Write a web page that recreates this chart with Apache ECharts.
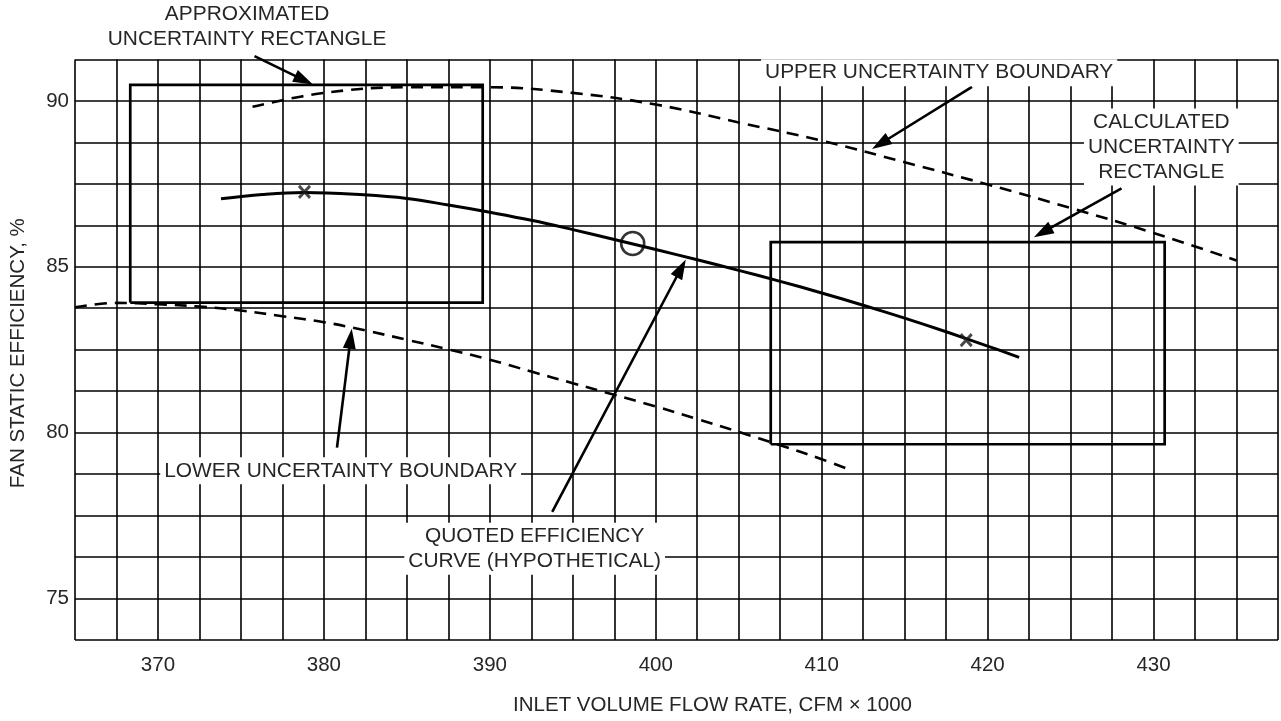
<!DOCTYPE html>
<html>
<head>
<meta charset="utf-8">
<script src="https://cdn.jsdelivr.net/npm/echarts@6/dist/echarts.min.js"></script>
<style>
  html, body { margin: 0; padding: 0; background: #fff; }
  #chart { width: 1281px; height: 721px; }
</style>
</head>
<body>
<div id="chart"></div>
<script>
// ---- Axis ranges and tick spacing ----
const xRange = [365, 437.5];
const yRange = [73.75, 91.25];
const xStep = 2.5;
const yStep = 1.25;
const xLabelEvery = 10;
const yLabelEvery = 5;

// ---- Curves: fan static efficiency (%) vs inlet volume flow (CFM x 1000) ----
const quotedCurve = [
  [373.8, 87.05], [376.3, 87.18], [378.8, 87.24], [382.4, 87.17], [385.0, 87.06],
  [387.5, 86.86], [390.0, 86.64], [392.5, 86.40], [395.0, 86.12], [397.5, 85.82],
  [400.0, 85.52], [402.5, 85.21], [405.0, 84.89], [407.5, 84.56], [410.0, 84.21],
  [412.5, 83.84], [415.0, 83.45], [417.5, 83.04], [420.0, 82.61], [421.9, 82.27]
];
const upperBoundary = [
  [375.7, 89.82], [380.0, 90.24], [385.0, 90.41], [390.0, 90.41], [395.0, 90.24],
  [400.0, 89.89], [405.0, 89.35], [410.0, 88.80], [415.0, 88.15], [420.0, 87.48],
  [425.0, 86.77], [430.0, 86.02], [435.0, 85.19]
];
const lowerBoundary = [
  [365.0, 83.78], [367.5, 83.91], [370.0, 83.87], [372.5, 83.80], [375.0, 83.68],
  [377.5, 83.51], [380.0, 83.33], [382.5, 83.08], [385.0, 82.80], [387.5, 82.51],
  [390.0, 82.20], [392.5, 81.84], [395.0, 81.49], [397.5, 81.14], [400.0, 80.79],
  [402.5, 80.41], [405.0, 80.02], [407.5, 79.62], [410.0, 79.20], [411.7, 78.88]
];

// ---- Uncertainty rectangles (flow span, efficiency span) ----
const approxRectX = [368.33, 389.57];
const approxRectY = [83.92, 90.48];
const calcRectX = [406.93, 430.67];
const calcRectY = [79.65, 85.74];

// ---- Points ----
const testPoints = [[378.83, 87.26], [418.71, 82.79]];
const ratedPoint = [[398.61, 85.7]];

// ---- Callouts: text and its anchor, arrows from tail to tip ----
const calloutText = [
  'APPROXIMATED\nUNCERTAINTY RECTANGLE',
  'UPPER UNCERTAINTY BOUNDARY',
  'CALCULATED\nUNCERTAINTY\nRECTANGLE',
  'LOWER UNCERTAINTY BOUNDARY',
  'QUOTED EFFICIENCY\nCURVE (HYPOTHETICAL)'
];
const calloutAnchor = [
  [375.37, 92.23],
  [417.08, 90.85],
  [430.47, 88.61],
  [381.01, 78.85],
  [392.70, 76.50]
];
const calloutArrows = [
  [375.82, 91.35, 379.34, 90.49],
  [419.06, 90.42, 413.03, 88.55],
  [428.07, 87.36, 422.79, 85.89],
  [380.79, 79.55, 381.68, 83.13],
  [393.76, 77.61, 401.81, 85.22]
];

const FONT = 'Liberation Sans, Arial, Helvetica, sans-serif';
const TEXT_COLOR = '#262626';
const FONT_SIZE = 20.5;
const CALLOUT_SIZE = 20.9;

function rectPath(xs, ys) {
  return [[xs[0], ys[0]], [xs[1], ys[0]], [xs[1], ys[1]], [xs[0], ys[1]], [xs[0], ys[0]]];
}
function isMultiple(v, step) {
  return Math.abs(v / step - Math.round(v / step)) < 1e-6;
}

const chart = echarts.init(document.getElementById('chart'), null, { renderer: 'canvas' });

const option = {
  animation: false,
  backgroundColor: '#fff',
  grid: { left: 64.7, top: 59.4, width: 1215.6, height: 586.9, containLabel: false },
  xAxis: {
    type: 'value',
    min: xRange[0], max: xRange[1], interval: xStep,
    axisLine: { show: false },
    axisTick: { show: false },
    splitLine: { show: true, lineStyle: { color: '#000', width: 1.6 } },
    axisLabel: {
      color: TEXT_COLOR, fontSize: FONT_SIZE, fontFamily: FONT, margin: 15,
      formatter: v => isMultiple(v, xLabelEvery) ? String(Math.round(v)) : ''
    },
    name: 'INLET VOLUME FLOW RATE, CFM × 1000',
    nameLocation: 'middle', nameGap: 55,
    nameTextStyle: { color: TEXT_COLOR, fontSize: FONT_SIZE, fontFamily: FONT, padding: [0, 0, 0, 72] }
  },
  yAxis: {
    type: 'value',
    min: yRange[0], max: yRange[1], interval: yStep,
    axisLine: { show: false },
    axisTick: { show: false },
    splitLine: { show: true, lineStyle: { color: '#000', width: 1.6 } },
    axisLabel: {
      color: TEXT_COLOR, fontSize: FONT_SIZE, fontFamily: FONT, margin: 6,
      formatter: v => isMultiple(v, yLabelEvery) ? String(Math.round(v)) : ''
    },
    name: 'FAN STATIC EFFICIENCY, %',
    nameLocation: 'middle', nameGap: 46,
    nameTextStyle: { color: TEXT_COLOR, fontSize: FONT_SIZE, fontFamily: FONT, padding: [0, 7, 0, 0] }
  },
  series: [
    {
      name: 'Quoted efficiency', type: 'line', data: quotedCurve,
      smooth: 0.4, showSymbol: false, symbol: 'none',
      lineStyle: { color: '#000', width: 3 }, z: 3
    },
    {
      name: 'Upper boundary', type: 'line', data: upperBoundary,
      smooth: 0.4, showSymbol: false, symbol: 'none',
      lineStyle: { color: '#000', width: 2.6, type: [12, 8] }, z: 3
    },
    {
      name: 'Lower boundary', type: 'line', data: lowerBoundary,
      smooth: 0.4, showSymbol: false, symbol: 'none',
      lineStyle: { color: '#000', width: 2.6, type: [12, 8] }, z: 3
    },
    {
      name: 'Approximated rectangle', type: 'line', data: rectPath(approxRectX, approxRectY),
      showSymbol: false, symbol: 'none', clip: false,
      lineStyle: { color: '#000', width: 2.7, join: 'miter' }, z: 3
    },
    {
      name: 'Calculated rectangle', type: 'line', data: rectPath(calcRectX, calcRectY),
      showSymbol: false, symbol: 'none', clip: false,
      lineStyle: { color: '#000', width: 2.7, join: 'miter' }, z: 3
    },
    {
      name: 'Test points', type: 'scatter', data: testPoints,
      symbol: 'path://M0,0L10,11M10,0L0,11', symbolSize: [11, 12],
      itemStyle: { color: 'rgba(0,0,0,0)', borderColor: '#1a1a1a', borderWidth: 3 }, z: 4
    },
    {
      name: 'Rated point', type: 'scatter', data: ratedPoint,
      symbol: 'circle', symbolSize: 23,
      itemStyle: { color: 'rgba(0,0,0,0)', borderColor: '#000', borderWidth: 2.6 }, z: 4
    },
    {
      name: 'Callout arrows', type: 'custom', data: calloutArrows, clip: false, z: 5,
      encode: { x: [0, 2], y: [1, 3] },
      renderItem: function (params, api) {
        const a = api.coord([api.value(0), api.value(1)]);
        const b = api.coord([api.value(2), api.value(3)]);
        const dx = b[0] - a[0], dy = b[1] - a[1];
        const len = Math.hypot(dx, dy);
        const ux = dx / len, uy = dy / len;
        const headLen = 20, headHalf = 6.5;
        const bx = b[0] - ux * headLen, by = b[1] - uy * headLen;
        return {
          type: 'group',
          children: [
            {
              type: 'line',
              shape: { x1: a[0], y1: a[1], x2: bx + ux * 3, y2: by + uy * 3 },
              style: { stroke: '#000', lineWidth: 2.6 }
            },
            {
              type: 'polygon',
              shape: { points: [[b[0], b[1]], [bx - uy * headHalf, by + ux * headHalf], [bx + uy * headHalf, by - ux * headHalf]] },
              style: { fill: '#000' }
            }
          ]
        };
      }
    },
    {
      name: 'Callout text', type: 'custom', data: calloutAnchor, clip: false, z: 6,
      encode: { x: 0, y: 1 },
      renderItem: function (params, api) {
        const p = api.coord([api.value(0), api.value(1)]);
        return {
          type: 'text',
          x: p[0], y: p[1],
          style: {
            text: calloutText[params.dataIndex],
            fill: TEXT_COLOR,
            fontSize: CALLOUT_SIZE,
            fontFamily: FONT,
            align: 'center',
            verticalAlign: 'middle',
            lineHeight: 25,
            backgroundColor: '#fff',
            padding: [1, 4]
          }
        };
      }
    }
  ]
};

chart.setOption(option);
</script>
</body>
</html>
